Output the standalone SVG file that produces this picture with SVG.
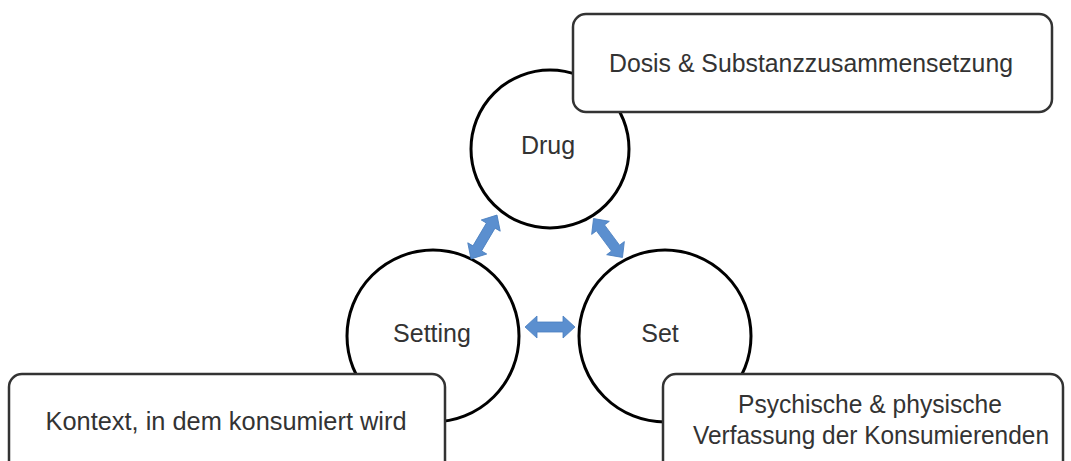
<svg xmlns="http://www.w3.org/2000/svg" width="1071" height="461" viewBox="0 0 1071 461">
<style>
.c{fill:#fff;stroke:#000;stroke-width:3}
.b{fill:#fff;stroke:#333;stroke-width:2.5}
.t{font-family:"Liberation Sans",Arial,sans-serif;font-size:25px;fill:#333;text-anchor:middle}
.a{fill:#5b8fcf;stroke:#4a7fc0;stroke-width:0.8}
</style>
<defs>
<polygon id="dbl" points="-25,0 -13,-11 -13,-5 13,-5 13,-11 25,0 13,11 13,5 -13,5 -13,11"/>
</defs>
<g id="drug"><circle class="c" cx="550" cy="149" r="79"/><text class="t" x="548" y="154">Drug</text></g>
<g id="setting"><circle class="c" cx="433" cy="336" r="86"/><text class="t" x="432" y="342">Setting</text></g>
<g id="set"><circle class="c" cx="665" cy="336" r="86"/><text class="t" x="660" y="342">Set</text></g>
<g id="connectors">
<use href="#dbl" class="a" transform="translate(484,237) rotate(-59.4) scale(1.02,1)"/>
<use href="#dbl" class="a" transform="translate(608,238) rotate(53.4) scale(0.97,1)"/>
<use href="#dbl" class="a" transform="translate(550,327)"/>
</g>
<g id="box-drug"><rect class="b" x="573" y="14" width="479" height="98" rx="13"/><text class="t" x="811" y="72" textLength="404" lengthAdjust="spacingAndGlyphs">Dosis &amp; Substanzzusammensetzung</text></g>
<g id="box-setting"><rect class="b" x="9" y="374" width="436" height="100" rx="13"/><text class="t" x="226" y="430" textLength="361" lengthAdjust="spacingAndGlyphs">Kontext, in dem konsumiert wird</text></g>
<g id="box-set"><rect class="b" x="663" y="374" width="400" height="100" rx="13"/><text class="t" x="870" y="413" textLength="264" lengthAdjust="spacingAndGlyphs">Psychische &amp; physische</text><text class="t" x="871" y="444" textLength="356" lengthAdjust="spacingAndGlyphs">Verfassung der Konsumierenden</text></g>
</svg>
